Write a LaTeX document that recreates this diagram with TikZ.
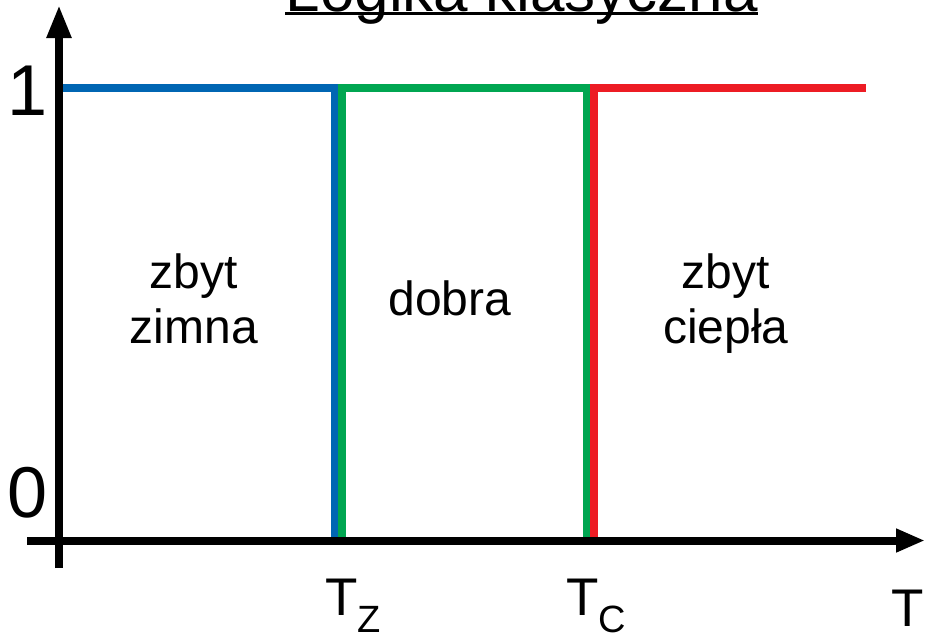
\documentclass[tikz,border=0pt]{standalone}
\usepackage{fontspec}
\setmainfont{Liberation Sans}
\usetikzlibrary{arrows.meta}
\definecolor{cblue}{RGB}{0,102,179}
\definecolor{cgreen}{RGB}{0,166,81}
\definecolor{cred}{RGB}{237,28,36}
\begin{document}
\begin{tikzpicture}[x=1pt,y=-1pt,
  axisline/.style={line width=8pt,black},
  vtip/.style={-{Triangle[length=33pt,width=23pt]}},
  htip/.style={-{Triangle[length=29pt,width=22pt]}},
  setline/.style={line width=7.5pt,line join=miter},
  region/.style={inner sep=0pt,align=center,anchor=north,font=\fontsize{48}{55}\selectfont},
  ticklab/.style={inner sep=0pt,anchor=base west,font=\fontsize{53}{60}\selectfont},
  numlab/.style={inner sep=0pt,anchor=base west,font=\fontsize{72}{80}\selectfont}]
\useasboundingbox (0,0) rectangle (925,635);
% coordinates
\coordinate (ybot) at (59,568);
\coordinate (ytop) at (59,5);
\coordinate (xl) at (27,540.5);
\coordinate (xr) at (925,540.5);
\coordinate (b0) at (59,88);
\coordinate (b1) at (334.5,88);
\coordinate (b2) at (334.5,540.5);
\coordinate (g0) at (342,540.5);
\coordinate (g1) at (342,88);
\coordinate (g2) at (586.5,88);
\coordinate (g3) at (586.5,540.5);
\coordinate (r0) at (594,540.5);
\coordinate (r1) at (594,88);
\coordinate (r2) at (866,88);
% membership lines
\draw[setline,cblue] (b0) -- (b1) -- (b2);
\draw[setline,cgreen] (g0) -- (g1) -- (g2) -- (g3);
\draw[setline,cred] (r0) -- (r1) -- (r2);
% axes
\draw[axisline,vtip] (ybot) -- (ytop);
\draw[axisline,htip] (xl) -- (xr);
% title
\node[inner sep=0pt,anchor=base east,font=\fontsize{62}{70}\selectfont] (title) at (758,11) {Logika klasyczna};
\draw[line width=3pt] ([yshift=-2.5pt]title.base west) -- ([yshift=-2.5pt]title.base east);
% labels
\node[numlab] (one) at (7,115) {1};
\node[numlab] (zero) at (7,517) {0};
\node[region] (cold) at (194,253.6) {zbyt\\zimna};
\node[inner sep=0pt,anchor=base,font=\fontsize{48}{55}\selectfont] (good) at (450,315) {dobra};
\node[region] (warm) at (726,253.6) {zbyt\\ciepła};
\node[ticklab] (tz) at (325,615) {T\raisebox{-17pt}{\fontsize{38}{40}\selectfont Z}};
\node[ticklab] (tc) at (566,615) {T\raisebox{-17pt}{\fontsize{38}{40}\selectfont C}};
\node[ticklab] (tt) at (891,626) {T};
\end{tikzpicture}
\end{document}
